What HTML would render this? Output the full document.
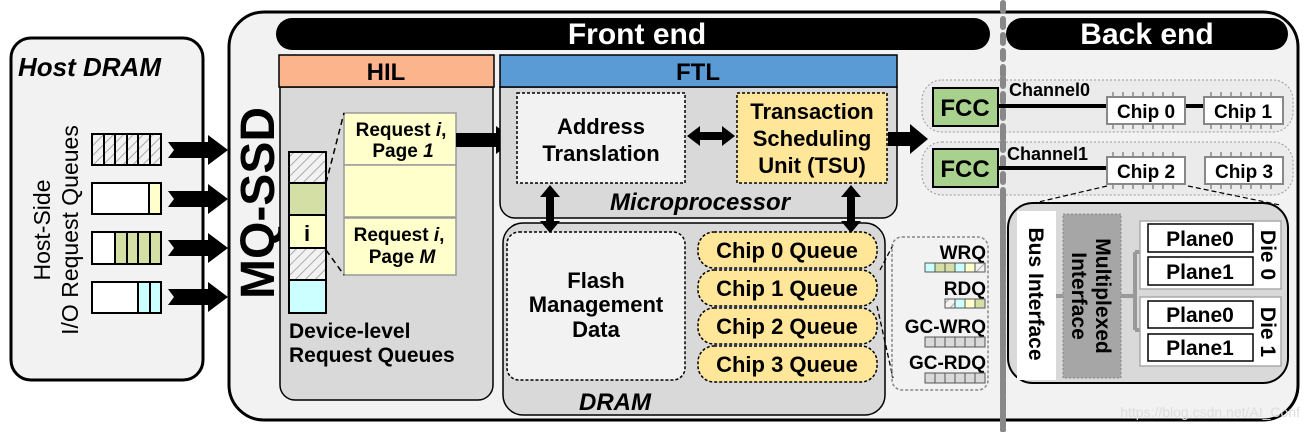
<!DOCTYPE html>
<html><head><meta charset="utf-8"><style>
html,body{margin:0;padding:0;background:#fff;}
svg{display:block;}
text{font-family:"Liberation Sans",sans-serif;font-weight:bold;fill:#000;}
</style></head><body>
<svg width="1308" height="432" viewBox="0 0 1308 432" xmlns="http://www.w3.org/2000/svg">
<defs>
<pattern id="h" width="7" height="7" patternUnits="userSpaceOnUse" patternTransform="rotate(45)">
<rect width="7" height="7" fill="#f2f2f2"/><line x1="0" y1="0" x2="0" y2="7" stroke="#aaa" stroke-width="2"/>
</pattern>
</defs>
<!-- Host DRAM -->
<rect x="11" y="38" width="192" height="342" rx="20" fill="#f2f2f2" stroke="#000" stroke-width="3"/>
<text x="18" y="76" font-size="26" font-style="italic">Host DRAM</text>
<g transform="translate(50,230) rotate(-90)" font-size="23"><text x="0" y="0" text-anchor="middle" style="font-weight:normal">Host-Side</text><text x="0" y="28" text-anchor="middle" style="font-weight:normal">I/O Request Queues</text></g>
<g stroke="#000" stroke-width="2">
<rect x="92" y="134" width="69" height="31" fill="url(#h)"/>
<line x1="104" y1="134" x2="104" y2="165"/><line x1="115" y1="134" x2="115" y2="165"/><line x1="127" y1="134" x2="127" y2="165"/><line x1="138" y1="134" x2="138" y2="165"/><line x1="150" y1="134" x2="150" y2="165"/>
<rect x="92" y="183" width="69" height="31" fill="#fff"/><rect x="149" y="183" width="12" height="31" fill="#ffffcc"/>
<rect x="92" y="232" width="69" height="32" fill="#fff"/><rect x="115" y="232" width="46" height="32" fill="#d3dfa5"/>
<line x1="127" y1="232" x2="127" y2="264"/><line x1="138" y1="232" x2="138" y2="264"/><line x1="150" y1="232" x2="150" y2="264"/>
<rect x="92" y="282" width="69" height="31" fill="#fff"/><rect x="138" y="282" width="23" height="31" fill="#ccffff"/><line x1="150" y1="282" x2="150" y2="313"/>
</g>
<g fill="#000">
<polygon points="168,142 208,142 208,135 228,150 208,165 208,158 168,158 174,150"/>
<polygon points="168,191 208,191 208,184 228,199 208,214 208,207 168,207 174,199"/>
<polygon points="168,240 208,240 208,233 228,248 208,263 208,256 168,256 174,248"/>
<polygon points="168,289 208,289 208,282 228,297 208,312 208,305 168,305 174,297"/>
</g>
<!-- MQ-SSD -->
<rect x="229" y="12" width="1069" height="408" rx="35" fill="#f2f2f2" stroke="#000" stroke-width="3"/>
<text transform="translate(274,203) rotate(-90)" font-size="48" text-anchor="middle">MQ-SSD</text>
<rect x="276" y="18" width="714" height="32" rx="16" fill="#000"/>
<text x="637" y="44" font-size="30" text-anchor="middle" style="fill:#fff">Front end</text>
<rect x="1006" y="18" width="282" height="32" rx="16" fill="#000"/>
<text x="1147" y="44" font-size="30" text-anchor="middle" style="fill:#fff">Back end</text>
<line x1="1003" y1="3" x2="1003" y2="430" stroke="#888" stroke-width="6" stroke-dasharray="8 8" stroke-linecap="round"/>
<!-- HIL -->
<path d="M280,87 H493 V385 a15,15 0 0 1 -15,15 H295 a15,15 0 0 1 -15,-15 Z" fill="#d9d9d9" stroke="#000" stroke-width="1.5"/>
<rect x="279" y="55" width="215" height="32" fill="#fbb48c" stroke="#000" stroke-width="1.5"/>
<text x="386" y="80" font-size="24" text-anchor="middle">HIL</text>
<g stroke="#000" stroke-width="2">
<rect x="289" y="152" width="37" height="31" fill="url(#h)"/>
<rect x="289" y="183" width="37" height="32" fill="#d3dfa5"/>
<rect x="289" y="215" width="37" height="33" fill="#ffffcc"/>
<rect x="289" y="248" width="37" height="32" fill="url(#h)"/>
<rect x="289" y="280" width="37" height="33" fill="#ccffff"/>
</g>
<text x="307" y="241" font-size="22" text-anchor="middle">i</text>
<g stroke="#999" stroke-width="1.5" fill="#ffffcc">
<rect x="344" y="113" width="112" height="52"/><rect x="344" y="165" width="112" height="52"/><rect x="344" y="218" width="112" height="57"/>
</g>
<g stroke="#000" stroke-width="1.5" stroke-dasharray="6 4" fill="none"><line x1="326" y1="183" x2="344" y2="113"/><line x1="326" y1="250" x2="344" y2="275"/></g>
<g font-size="19" text-anchor="middle">
<text x="401" y="136">Request <tspan font-style="italic">i</tspan>,</text><text x="403" y="157">Page <tspan font-style="italic">1</tspan></text>
<text x="399" y="241">Request <tspan font-style="italic">i</tspan>,</text><text x="402" y="263">Page <tspan font-style="italic">M</tspan></text>
</g>
<text x="289" y="338" font-size="21">Device-level</text>
<text x="289" y="362" font-size="21">Request Queues</text>
<polygon points="456,133 496,133 496,126 515,140 496,154 496,147 456,147" fill="#000"/>
<!-- FTL -->
<path d="M500,87 H897 V203 a15,15 0 0 1 -15,15 H515 a15,15 0 0 1 -15,-15 Z" fill="#d9d9d9" stroke="#000" stroke-width="1.5"/>
<rect x="500" y="55" width="397" height="32" fill="#5b9bd5" stroke="#000" stroke-width="1.5"/>
<text x="698" y="80" font-size="24" text-anchor="middle">FTL</text>
<rect x="517" y="93" width="168" height="90" fill="#f2f2f2" stroke="#000" stroke-width="1.5" stroke-dasharray="3 2"/>
<text x="601" y="134" font-size="22" text-anchor="middle">Address</text><text x="601" y="161" font-size="22" text-anchor="middle">Translation</text>
<rect x="737" y="93" width="150" height="90" fill="#ffe699" stroke="#000" stroke-width="1.5" stroke-dasharray="3 2"/>
<text x="812" y="119" font-size="22" text-anchor="middle">Transaction</text><text x="812" y="146" font-size="22" text-anchor="middle">Scheduling</text><text x="812" y="173" font-size="22" text-anchor="middle">Unit (TSU)</text>
<polygon points="687,136 700,126 700,132 722,132 722,126 735,136 722,146 722,140 700,140 700,146" fill="#000"/>
<text x="700" y="210" font-size="24" font-style="italic" text-anchor="middle">Microprocessor</text>
<polygon points="888,132 910,132 910,124 928,139 910,154 910,146 888,146" fill="#000"/>
<!-- DRAM -->
<rect x="503" y="223" width="382" height="192" rx="20" fill="#d9d9d9" stroke="#000" stroke-width="1.5"/>
<polygon points="550,185 560,197 554,197 554,221 560,221 550,233 540,221 546,221 546,197 540,197" fill="#000"/>
<polygon points="851,185 861,197 855,197 855,221 861,221 851,233 841,221 847,221 847,197 841,197" fill="#000"/>
<rect x="507" y="232" width="178" height="148" rx="12" fill="#f2f2f2" stroke="#000" stroke-width="1.5" stroke-dasharray="3 2"/>
<text x="596" y="288" font-size="22" text-anchor="middle">Flash</text><text x="596" y="312" font-size="22" text-anchor="middle">Management</text><text x="596" y="337" font-size="22" text-anchor="middle">Data</text>
<g fill="#ffe699" stroke="#000" stroke-width="1.5" stroke-dasharray="3 2">
<rect x="698" y="232" width="179" height="36" rx="16"/><rect x="698" y="270" width="179" height="36" rx="16"/><rect x="698" y="308" width="179" height="36" rx="16"/><rect x="698" y="346" width="179" height="36" rx="16"/>
</g>
<g font-size="22" text-anchor="middle"><text x="787" y="258">Chip 0 Queue</text><text x="787" y="296">Chip 1 Queue</text><text x="787" y="334">Chip 2 Queue</text><text x="787" y="372">Chip 3 Queue</text></g>
<text x="615" y="410" font-size="24" font-style="italic" text-anchor="middle">DRAM</text>
<g stroke="#000" stroke-width="1.3" stroke-dasharray="5 3"><line x1="880" y1="270" x2="893" y2="245"/><line x1="877" y1="306" x2="893" y2="378"/></g>
<rect x="892" y="237" width="96" height="153" rx="10" fill="none" stroke="#888" stroke-width="1.5" stroke-dasharray="3 2"/>
<g font-size="19" text-anchor="end"><text x="986" y="259">WRQ</text><text x="986" y="295">RDQ</text><text x="986" y="333">GC-WRQ</text><text x="986" y="369">GC-RDQ</text></g>
<g stroke="#555" stroke-width="1">
<rect x="925" y="263" width="10" height="9" fill="#ccffff"/><rect x="935" y="263" width="10" height="9" fill="#d3dfa5"/><rect x="945" y="263" width="10" height="9" fill="#d3dfa5"/><rect x="955" y="263" width="10" height="9" fill="#ccffff"/><rect x="965" y="263" width="10" height="9" fill="#ffffcc"/><rect x="975" y="263" width="10" height="9" fill="url(#h)"/>
<rect x="945" y="299" width="10" height="9" fill="url(#h)"/><rect x="955" y="299" width="10" height="9" fill="#ccffff"/><rect x="965" y="299" width="10" height="9" fill="#ffffcc"/><rect x="975" y="299" width="10" height="9" fill="#d3dfa5"/>
</g>
<g stroke="#555" stroke-width="1" fill="#d9d9d9">
<rect x="925" y="337" width="60" height="10"/><rect x="925" y="373" width="60" height="10"/>
<path d="M935,337v10M945,337v10M955,337v10M965,337v10M975,337v10M935,373v10M945,373v10M955,373v10M965,373v10M975,373v10" fill="none"/>
</g>
<!-- Back end channels -->
<rect x="922" y="80" width="371" height="52" rx="20" fill="#ebebeb" stroke="#999" stroke-width="1" stroke-dasharray="2 2"/>
<rect x="922" y="142" width="371" height="53" rx="20" fill="#ebebeb" stroke="#999" stroke-width="1" stroke-dasharray="2 2"/>
<line x1="1003" y1="78" x2="1003" y2="200" stroke="#888" stroke-width="6" stroke-dasharray="8 8" stroke-linecap="round"/>
<rect x="933" y="88" width="65" height="38" fill="#a9d18e" stroke="#000" stroke-width="2"/>
<rect x="933" y="149" width="65" height="38" fill="#a9d18e" stroke="#000" stroke-width="2"/>
<text x="965" y="116" font-size="24" text-anchor="middle">FCC</text><text x="965" y="177" font-size="24" text-anchor="middle">FCC</text>
<text x="1009" y="96" font-size="18">Channel0</text><text x="1007" y="160" font-size="18">Channel1</text>
<g stroke="#000" stroke-width="4"><line x1="998" y1="106" x2="1107" y2="106"/><line x1="1185" y1="106" x2="1204" y2="106"/><line x1="998" y1="168" x2="1107" y2="168"/></g>
<g stroke="#888" stroke-width="1.5">
<path d="M1113,92v5M1123,92v5M1133,92v5M1143,92v5M1153,92v5M1163,92v5M1173,92v5M1113,124v5M1123,124v5M1133,124v5M1143,124v5M1153,124v5M1163,124v5M1173,124v5"/>
<path d="M1211,92v5M1221,92v5M1231,92v5M1241,92v5M1251,92v5M1261,92v5M1271,92v5M1211,124v5M1221,124v5M1231,124v5M1241,124v5M1251,124v5M1261,124v5M1271,124v5"/>
<path d="M1113,152v5M1123,152v5M1133,152v5M1143,152v5M1153,152v5M1163,152v5M1173,152v5M1113,184v5M1123,184v5M1133,184v5M1143,184v5M1153,184v5M1163,184v5M1173,184v5"/>
<path d="M1211,152v5M1221,152v5M1231,152v5M1241,152v5M1251,152v5M1261,152v5M1271,152v5M1211,184v5M1221,184v5M1231,184v5M1241,184v5M1251,184v5M1261,184v5M1271,184v5"/>
</g>
<g fill="#fff" stroke="#888" stroke-width="2">
<rect x="1107" y="97" width="78" height="27"/><rect x="1204" y="97" width="79" height="27"/><rect x="1107" y="157" width="78" height="27"/><rect x="1205" y="157" width="78" height="27"/>
</g>
<g font-size="19" text-anchor="middle"><text x="1146" y="118">Chip 0</text><text x="1243" y="118">Chip 1</text><text x="1146" y="178">Chip 2</text><text x="1244" y="178">Chip 3</text></g>
<g stroke="#000" stroke-width="1.2" stroke-dasharray="5 3"><line x1="1107" y1="186" x2="1030" y2="204"/><line x1="1188" y1="186" x2="1280" y2="205"/></g>
<!-- Chip internals -->
<rect x="1008" y="203" width="280" height="180" rx="25" fill="#d9d9d9" stroke="#000" stroke-width="2"/>
<line x1="1003" y1="205" x2="1003" y2="430" stroke="#888" stroke-width="6" stroke-dasharray="8 8" stroke-linecap="round"/>
<rect x="1017" y="211" width="39" height="169" fill="#fff"/>
<text transform="translate(1029,294) rotate(90)" font-size="21" text-anchor="middle">Bus Interface</text>
<rect x="1063" y="214" width="58" height="164" fill="#a6a6a6" stroke="#888" stroke-width="1" stroke-dasharray="2 2"/>
<text transform="translate(1096,296) rotate(90)" font-size="21" text-anchor="middle">Multiplexed</text>
<text transform="translate(1072,296) rotate(90)" font-size="21" text-anchor="middle">Interface</text>
<g stroke="#999" stroke-width="4" fill="none">
<line x1="1056" y1="296" x2="1063" y2="296"/>
<path d="M1121,296 H1135 M1135,252 V330 M1135,252 H1145 M1135,330 H1145"/>
<path d="M1145,237 V270 M1145,237 H1152 M1145,270 H1152 M1145,315 V348 M1145,315 H1152 M1145,348 H1152"/>
</g>
<rect x="1140" y="221" width="141" height="68" fill="#fff" stroke="#aaa" stroke-width="1.5"/>
<rect x="1140" y="297" width="141" height="69" fill="#fff" stroke="#aaa" stroke-width="1.5"/>
<g fill="#fff" stroke="#000" stroke-width="1.5">
<rect x="1148" y="224" width="105" height="28"/><rect x="1148" y="257" width="105" height="28"/><rect x="1148" y="301" width="105" height="27"/><rect x="1148" y="334" width="105" height="27"/>
</g>
<g font-size="21" text-anchor="middle"><text x="1200" y="246">Plane0</text><text x="1200" y="279">Plane1</text><text x="1200" y="322">Plane0</text><text x="1200" y="355">Plane1</text></g>
<text transform="translate(1261,255) rotate(90)" font-size="21" text-anchor="middle">Die 0</text>
<text transform="translate(1261,332) rotate(90)" font-size="21" text-anchor="middle">Die 1</text>
<text x="1300" y="417" font-size="14" text-anchor="end" style="font-weight:normal;fill:#ddd">https://blog.csdn.net/AI_Conf</text>
</svg>
</body></html>
